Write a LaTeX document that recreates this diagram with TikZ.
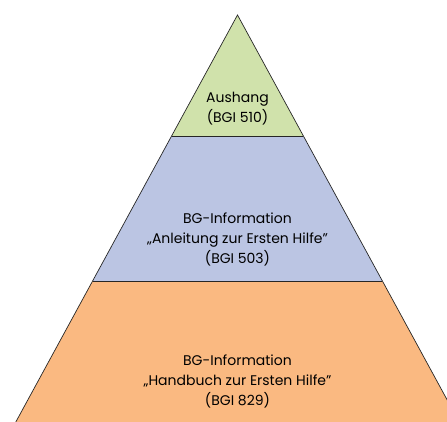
\documentclass[tikz,border=0pt]{standalone}
\usepackage{fontspec}
\setmainfont{Poppins}
\usetikzlibrary{positioning,calc}
\definecolor{layerA}{RGB}{208,226,171}
\definecolor{layerB}{RGB}{187,197,227}
\definecolor{layerC}{RGB}{250,185,129}
\tikzstyle{layer}=[draw=black!85, line width=0.7pt, line join=miter]
\tikzstyle{lab}=[align=center, inner sep=0pt, font=\fontsize{14}{20}\selectfont]

\begin{document}
\begin{tikzpicture}[x=1pt, y=-1pt]
        \useasboundingbox (0,0) rectangle (447,421);
        \clip (0,0) rectangle (447,421);
        %
        \coordinate (apex) at (237.5,15);
        \coordinate (l1) at (171.6,136);
        \coordinate (r1) at (303.4,136);
        \coordinate (l2) at (92.6,281);
        \coordinate (r2) at (382.4,281);
        \coordinate (l3) at (14.7,424);
        \coordinate (r3) at (460.3,424);
        %
        \fill[layerC] (l2) -- (r2) -- (r3) -- (l3) -- cycle;
        \fill[layerB] (l1) -- (r1) -- (r2) -- (l2) -- cycle;
        \fill[layerA] (apex) -- (r1) -- (l1) -- cycle;
        \draw[layer] (l3) -- (apex) -- (r3);
        \draw[layer] (l1) -- (r1);
        \draw[layer] (l2) -- (r2);
        %
        \node[lab] (aushang) at (237.5,109) {Aushang\\(BGI 510)};
        \node[lab] (anleitung) at (237.5,239) {BG-Information\\„Anleitung zur Ersten Hilfe”\\(BGI 503)};
        \node[lab] (handbuch) at (237.5,381) {BG-Information\\„Handbuch zur Ersten Hilfe”\\(BGI 829)};
\end{tikzpicture}
\end{document}
